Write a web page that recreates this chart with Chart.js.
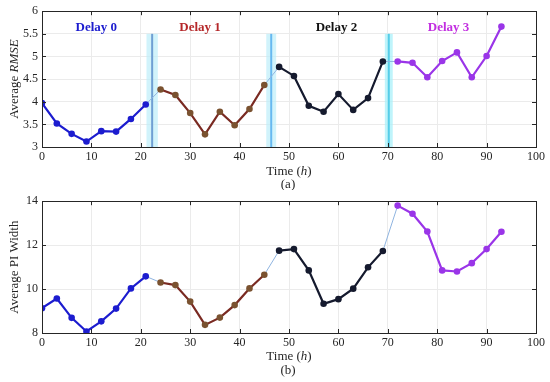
<!DOCTYPE html>
<html><head><meta charset="utf-8">
<script src="https://cdn.jsdelivr.net/npm/chart.js@4"></script>
<style>
html,body{margin:0;padding:0;background:#fff;}
canvas{display:block;}
</style></head>
<body>
<canvas id="c1" width="550" height="190"></canvas>
<canvas id="c2" width="550" height="192"></canvas>
<script>
// ---- data ----
const timesDelay0 = [0,3,6,9,12,15,18,21];
const timesDelay1 = [24,27,30,33,36,39,42,45];
const timesDelay2 = [48,51,54,57,60,63,66,69];
const timesDelay3 = [72,75,78,81,84,87,90,93];
const rmseDelay0 = [3.97,3.52,3.29,3.12,3.35,3.34,3.62,3.94];
const rmseDelay1 = [4.27,4.15,3.75,3.28,3.78,3.48,3.84,4.37];
const rmseDelay2 = [4.77,4.57,3.91,3.78,4.17,3.82,4.08,4.89];
const rmseDelay3 = [4.89,4.86,4.54,4.90,5.09,4.54,5.01,5.66];
const piDelay0 = [9.13,9.57,8.69,8.07,8.53,9.11,10.03,10.58];
const piDelay1 = [10.30,10.18,9.43,8.37,8.70,9.27,10.03,10.65];
const piDelay2 = [11.75,11.82,10.85,9.33,9.54,10.02,10.99,11.73];
const piDelay3 = [13.80,13.43,12.62,10.85,10.80,11.18,11.82,12.61];
const delayNames = ["Delay 0","Delay 1","Delay 2","Delay 3"];
const delayLabelX = [11,32,59.6,82.3];
const delayLabelY = 5.63;
const boundaryX = [22.3,46.4,70.2];
const boundaryHalfWidth = [1.15,1.0,0.8];
const boundaryTop = 5.5;
const xTicks = [0,10,20,30,40,50,60,70,80,90,100];
const rmseTicks = [3,3.5,4,4.5,5,5.5,6];
const piTicks = [8,10,12,14];

// ---- styles ----
const lineColors = ["#1c1ccf","#7a2a22","#151a2e","#9a35e8"];
const markerColors = ["#1c1ccf","#7a5230","#151a2e","#9a35e8"];
const textColors = ["#1c1ccf","#b5282a","#111111","#c22ee0"];
const connColor = "#8fb4e0";
const SERIF = "'Liberation Serif','DejaVu Serif',serif";

function pts(xs, ys){ return xs.map((x,i)=>({x:x,y:ys[i]})); }

function buildDatasets(series){
  const times = [timesDelay0,timesDelay1,timesDelay2,timesDelay3];
  const ds = [];
  for(let k=0;k<3;k++){
    const a = times[k], b = times[k+1];
    ds.push({data:[{x:a[a.length-1],y:series[k][series[k].length-1]},{x:b[0],y:series[k+1][0]}],
      borderColor:connColor,borderWidth:1,pointRadius:0,fill:false,order:5});
  }
  for(let k=0;k<4;k++){
    ds.push({data:pts(times[k],series[k]),borderColor:lineColors[k],borderWidth:2.2,
      pointRadius:3.3,pointBackgroundColor:markerColors[k],pointBorderColor:markerColors[k],
      pointBorderWidth:0,fill:false,order:1});
  }
  return ds;
}

function richText(ctx, parts, x, y, size){
  let total=0;
  parts.forEach(p=>{ctx.font=(p[1]?'italic ':'')+size+'px '+SERIF; total+=ctx.measureText(p[0]).width;});
  let cx = x-total/2;
  parts.forEach(p=>{ctx.font=(p[1]?'italic ':'')+size+'px '+SERIF; ctx.fillText(p[0],cx,y); cx+=ctx.measureText(p[0]).width;});
}

function makePlugin(opts){
  return {
    id:'decor'+opts.id,
    beforeDatasetsDraw(chart){
      const ctx=chart.ctx, xs=chart.scales.x, ys=chart.scales.y;
      if(opts.bands){
        boundaryX.forEach((bx,i)=>{
          const l=xs.getPixelForValue(bx-boundaryHalfWidth[i]), r=xs.getPixelForValue(bx+boundaryHalfWidth[i]);
          const t=ys.getPixelForValue(boundaryTop), b=ys.getPixelForValue(ys.min);
          ctx.save();
          ctx.fillStyle= i===2 ? 'rgba(170,240,250,0.75)' : 'rgba(190,238,250,0.7)';
          ctx.fillRect(l,t,r-l,b-t);
          ctx.strokeStyle= i===2 ? '#55cde8' : (i===1 ? '#66b8f0' : '#6f9fd3');
          ctx.lineWidth=2;
          const px=xs.getPixelForValue(bx);
          ctx.beginPath(); ctx.moveTo(px,t); ctx.lineTo(px,b); ctx.stroke();
          ctx.restore();
        });
      }
    },
    afterDraw(chart){
      const ctx=chart.ctx, a=chart.chartArea, xs=chart.scales.x, ys=chart.scales.y;
      ctx.save();
      ctx.strokeStyle='#262626'; ctx.lineWidth=1;
      ctx.strokeRect(Math.round(a.left)+0.5,Math.round(a.top)+0.5,Math.round(a.right-a.left),Math.round(a.bottom-a.top));
      ctx.beginPath();
      xTicks.forEach(v=>{const p=Math.round(xs.getPixelForValue(v))+0.5;
        ctx.moveTo(p,a.bottom); ctx.lineTo(p,a.bottom-4); ctx.moveTo(p,a.top); ctx.lineTo(p,a.top+4);});
      opts.yTicks.forEach(v=>{const p=Math.round(ys.getPixelForValue(v))+0.5;
        ctx.moveTo(a.left,p); ctx.lineTo(a.left+4,p); ctx.moveTo(a.right,p); ctx.lineTo(a.right-4,p);});
      ctx.stroke();
      ctx.fillStyle='#262626'; ctx.textAlign='left'; ctx.textBaseline='middle';
      richText(ctx,[["Time (",false],["h",true],[")",false]],289,opts.xTitleY,13);
      ctx.textAlign='center';
      ctx.font='13px '+SERIF;
      ctx.fillText(opts.sub,288,opts.subY);
      ctx.save();
      ctx.translate(15,(a.top+a.bottom)/2);
      ctx.rotate(-Math.PI/2);
      ctx.textAlign='left';
      richText(ctx,opts.yTitle,0,0,13);
      ctx.restore();
      if(opts.labels){
        ctx.font='bold 13px '+SERIF; ctx.textAlign='center';
        delayNames.forEach((n,i)=>{ctx.fillStyle=textColors[i];
          ctx.fillText(n,xs.getPixelForValue(delayLabelX[i]),ys.getPixelForValue(delayLabelY));});
      }
      ctx.restore();
    }
  };
}

function makeChart(id, series, yMin, yMax, yStep, yTicks, pad, xH, plugin){
  return new Chart(document.getElementById(id),{
    type:'line',
    data:{datasets:buildDatasets(series)},
    options:{
      responsive:false, animation:false, devicePixelRatio:1,
      layout:{padding:{top:pad.top,right:14,left:0,bottom:0}},
      plugins:{legend:{display:false},tooltip:{enabled:false}},
      scales:{
        x:{type:'linear',min:0,max:100,
          ticks:{stepSize:10,color:'#262626',font:{family:SERIF,size:12},padding:3,maxRotation:0,
            callback:v=>String(v)},
          grid:{color:'#ebebeb',drawTicks:false},border:{display:false},
          afterFit(s){s.height=xH;}},
        y:{type:'linear',min:yMin,max:yMax,
          ticks:{stepSize:yStep,color:'#262626',font:{family:SERIF,size:12},padding:4,
            callback:v=>String(v)},
          grid:{color:'#ebebeb',drawTicks:false},border:{display:false},
          afterFit(s){s.width=42;}}
      }
    },
    plugins:[plugin]
  });
}

makeChart('c1',[rmseDelay0,rmseDelay1,rmseDelay2,rmseDelay3],3,6,0.5,rmseTicks,{top:10},43,
  makePlugin({id:1,bands:true,labels:true,yTicks:rmseTicks,xTitleY:172,sub:"(a)",subY:185,
    yTitle:[["Average ",false],["RMSE",true]]}));
makeChart('c2',[piDelay0,piDelay1,piDelay2,piDelay3],8,14,2,piTicks,{top:6},49,
  makePlugin({id:2,bands:false,labels:false,yTicks:piTicks,xTitleY:167,sub:"(b)",subY:181,
    yTitle:[["Average PI Width",false]]}));
</script>
</body></html>
